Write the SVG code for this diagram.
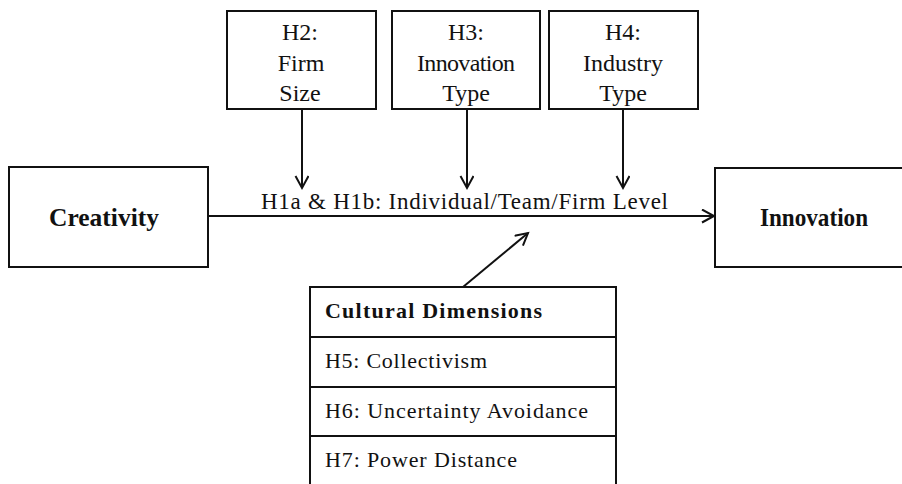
<svg xmlns="http://www.w3.org/2000/svg" width="902" height="484" viewBox="0 0 902 484">
<defs>
<style>
.box{fill:#fff;stroke:#111;stroke-width:2}
.ln{fill:none;stroke:#111;stroke-width:2}
.t{font-family:"Liberation Serif","Times New Roman",serif;fill:#111}
.c{text-anchor:middle;font-size:24px}
.b{font-weight:bold;font-size:25px;text-anchor:middle}
.r{font-size:22px}
</style>
<marker id="ah" markerWidth="16" markerHeight="16" refX="13" refY="7" orient="auto" markerUnits="userSpaceOnUse">
<path d="M1,0.5 L13,7 L1,13.5" fill="none" stroke="#111" stroke-width="2"/>
</marker>
</defs>
<rect width="902" height="484" fill="#fff"/>
<g id="connectors">
<line class="ln" x1="208" y1="216" x2="714" y2="216" marker-end="url(#ah)"/>
<line class="ln" x1="302" y1="109" x2="302" y2="188" marker-end="url(#ah)"/>
<line class="ln" x1="467" y1="109" x2="467" y2="188" marker-end="url(#ah)"/>
<line class="ln" x1="623" y1="109" x2="623" y2="188" marker-end="url(#ah)"/>
<line class="ln" x1="463" y1="287" x2="528" y2="233" marker-end="url(#ah)"/>
<text class="t" x="261" y="209" font-size="23" textLength="407" lengthAdjust="spacing">H1a &amp; H1b: Individual/Team/Firm  Level</text>
</g>
<g id="creativity">
<rect class="box" x="9" y="167" width="199" height="100"/>
<text class="t b" x="104" y="226" textLength="110" lengthAdjust="spacingAndGlyphs">Creativity</text>
</g>
<g id="innovation">
<rect class="box" x="715" y="168" width="200" height="99"/>
<text class="t b" x="814" y="226" textLength="108" lengthAdjust="spacingAndGlyphs">Innovation</text>
</g>
<g id="h2">
<rect class="box" x="227" y="11" width="149" height="98"/>
<text class="t c" x="300" y="40">H2:</text>
<text class="t c" x="301" y="71">Firm</text>
<text class="t c" x="300" y="101">Size</text>
</g>
<g id="h3">
<rect class="box" x="392" y="11" width="148" height="98"/>
<text class="t c" x="466" y="40">H3:</text>
<text class="t c" x="466" y="71" textLength="98" lengthAdjust="spacing">Innovation</text>
<text class="t c" x="466" y="101">Type</text>
</g>
<g id="h4">
<rect class="box" x="549" y="11" width="149" height="98"/>
<text class="t c" x="623" y="40">H4:</text>
<text class="t c" x="623" y="71">Industry</text>
<text class="t c" x="623" y="101">Type</text>
</g>
<g id="cultural">
<rect class="box" x="310" y="287" width="306" height="210"/>
<line class="ln" x1="310" y1="337" x2="616" y2="337"/>
<line class="ln" x1="310" y1="387" x2="616" y2="387"/>
<line class="ln" x1="310" y1="436" x2="616" y2="436"/>
<text class="t r" x="325" y="318" font-weight="bold" textLength="217" lengthAdjust="spacing">Cultural  Dimensions</text>
<text class="t r" x="325" y="368" textLength="162" lengthAdjust="spacing">H5: Collectivism</text>
<text class="t r" x="325" y="418" textLength="263" lengthAdjust="spacing">H6: Uncertainty  Avoidance</text>
<text class="t r" x="325" y="467" textLength="192" lengthAdjust="spacing">H7: Power Distance</text>
</g>
</svg>
